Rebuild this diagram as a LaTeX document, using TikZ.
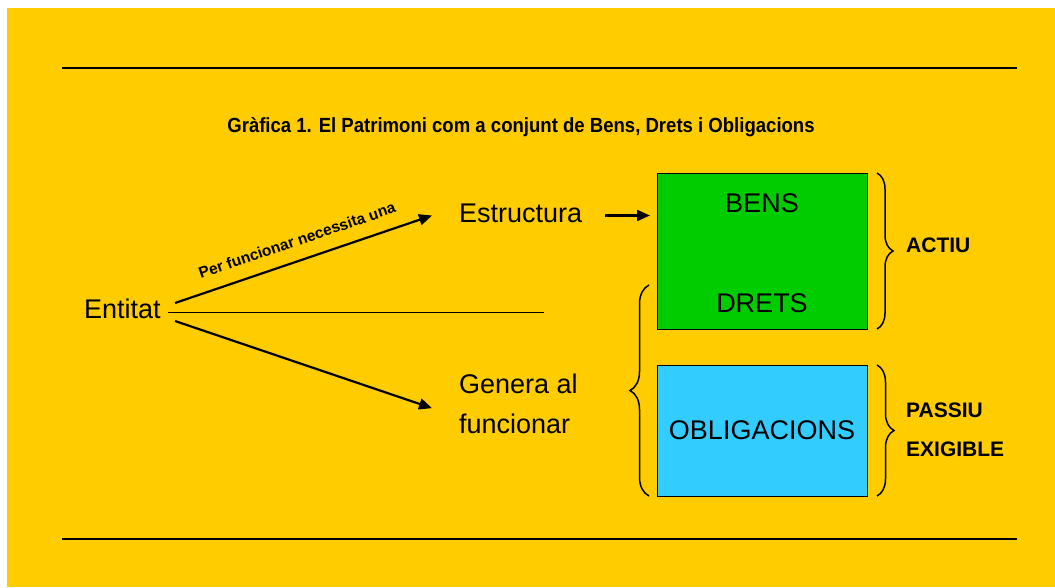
\documentclass[tikz,border=0pt]{standalone}
\usepackage{fontspec}
\setmainfont{Liberation Sans}
\usetikzlibrary{positioning, calc, arrows.meta, decorations.pathreplacing}
\definecolor{fonsgroc}{HTML}{FFCC00}
\definecolor{actiuverd}{HTML}{00CC00}
\definecolor{passiublau}{HTML}{33CCFF}

\begin{document}
\begin{tikzpicture}
    [x=1pt, y=-1pt,
    bignode/.style={font=\fontsize{27}{40}\selectfont, inner sep=3pt, outer sep=0pt},
    boldnode/.style={font=\fontsize{21}{39}\selectfont\bfseries, inner sep=0pt, align=left},
    squarednode/.style={rectangle, draw=black, line width=1pt, outer sep=0pt,
        minimum width=210pt, font=\fontsize{27}{40}\selectfont},
    arrowline/.style={line width=2.2pt, -{Triangle[length=13pt, width=11pt]}},
    bracestyle/.style={decorate, line width=1.5pt, decoration={brace, amplitude=#1}},
    rule/.style={line width=2pt}]

    %Background
    \useasboundingbox (0,0) rectangle (1055,587);
    \fill[white] (0,0) rectangle (1055,587);
    \fill[fonsgroc] (7,8) rectangle (1055,587);
    \draw[rule] (62,68) -- (1017,68);
    \draw[rule] (62,539) -- (1017,539);

    %Title
    \node[anchor=base, inner sep=0pt] (title) at (521,132)
        {\scalebox{0.905}[1]{\fontsize{20.5}{24}\selectfont\bfseries Gràfica 1. El Patrimoni com a conjunt de Bens, Drets i Obligacions}};

    %Nodes
    \node[bignode, anchor=base west] (entitat) at (81,318) {Entitat};
    \node[bignode, anchor=base west] (estructura) at (456,222) {Estructura};
    \node[bignode, anchor=base west, align=left] (genera) at (456,433) {Genera al\\funcionar};

    %Boxes
    \node[squarednode, fill=actiuverd, minimum height=156pt] (actiu) at (762,251) {};
    \node[squarednode, fill=passiublau, minimum height=131pt] (passiu) at (762,430.5) {OBLIGACIONS};
    \node[bignode, anchor=base] (bens) at ($(actiu.north)+(0,39)$) {BENS};
    \node[bignode, anchor=base] (drets) at ($(actiu.south)+(0,-17)$) {DRETS};

    %Arrows
    \draw[arrowline] ($(entitat.east)+(11.5,-5.35)$) -- ($(estructura.west)+(-24,2.65)$)
        node[pos=0.5, sloped, above=10pt, font=\fontsize{15.5}{18}\selectfont\bfseries] (perlabel) {Per funcionar necessita una};
    \draw[arrowline] ($(entitat.east)+(11.5,12.65)$) -- ($(genera.west)+(-24,4.8)$);
    \draw[line width=1pt] ($(entitat.east)+(4.5,3.65)$) -- +(376,0);
    \draw[arrowline] ($(estructura.east)+(20,2.65)$) -- ($(estructura.east -| actiu.west)+(-7,2.65)$);

    %Braces
    \draw[bracestyle=16] ($(actiu.north east)+(10,0)$) -- ($(actiu.south east)+(10,0)$);
    \draw[bracestyle=17] ($(passiu.north east)+(10,0)$) -- ($(passiu.south east)+(10,0)$);
    \draw[bracestyle=19] ($(passiu.south west)+(-8,0)$) -- ($(actiu.south west)+(-8,-44)$);

    %Labels
    \node[boldnode, anchor=base west] (actiulabel) at (906,252) {ACTIU};
    \node[boldnode, anchor=base west] (passiulabel) at (906,456) {PASSIU\\EXIGIBLE};
\end{tikzpicture}
\end{document}
